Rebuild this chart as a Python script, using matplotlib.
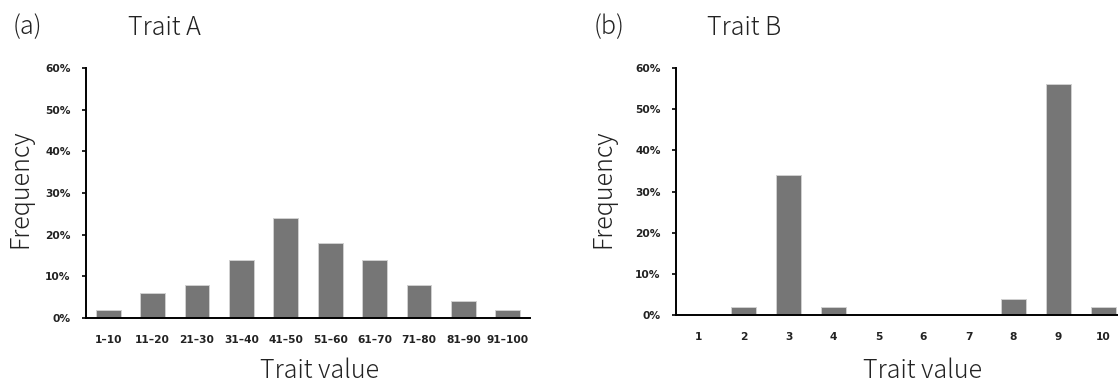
import matplotlib
matplotlib.use("Agg")
import matplotlib.pyplot as plt

#%% data
bins_a = ["1\u201310", "11\u201320", "21\u201330", "31\u201340", "41\u201350",
          "51\u201360", "61\u201370", "71\u201380", "81\u201390", "91\u2013100"]
freq_a = [2, 6, 8, 14, 24, 18, 14, 8, 4, 2]

bins_b = ["1", "2", "3", "4", "5", "6", "7", "8", "9", "10"]
freq_b = [0, 2, 34, 2, 0, 0, 0, 4, 56, 2]

yticks = [0, 10, 20, 30, 40, 50, 60]

#%% figure
W, H = 1118, 382
fig = plt.figure(figsize=(W / 100, H / 100), dpi=100)
big = dict(family=["Noto Sans CJK JP", "DejaVu Sans"], fontsize=18, weight="light", color="#222222")
small = dict(family=["DejaVu Sans"], fontsize=7.7, weight="bold", color="#222222")


def px(x0, y0, x1, y1):
    # pixel box (top-left origin) -> figure fraction rect
    return [x0 / W, 1 - y1 / H, (x1 - x0) / W, (y1 - y0) / H]


def panel(rect, cats, vals):
    ax = fig.add_axes(rect)
    x = list(range(len(cats)))
    ax.bar(x, vals, width=0.56, color="#767676", edgecolor="#d0d0d0", linewidth=0.7)
    ax.set_xlim(-0.5, len(cats) - 0.5)
    ax.set_ylim(0, 60)
    ax.set_yticks(yticks)
    ax.set_yticklabels([f"{v}%" for v in yticks], **small)
    ax.set_xticks(x)
    ax.set_xticklabels(cats, **small)
    ax.tick_params(axis="x", length=0, pad=12)
    ax.tick_params(axis="y", length=3, width=1.2, pad=8)
    for s in ["top", "right"]:
        ax.spines[s].set_visible(False)
    ax.spines["left"].set_linewidth(1.4)
    ax.spines["bottom"].set_linewidth(1.4)
    return ax


ax1 = panel(px(86, 68, 530, 318), bins_a, freq_a)
ax2 = panel(px(676, 68, 1126, 315), bins_b, freq_b)

# panel letters and titles
fig.text(13 / W, 1 - 34 / H, "(a)", ha="left", va="baseline", **big)
fig.text(128 / W, 1 - 35 / H, "Trait A", ha="left", va="baseline", **big)
fig.text(594 / W, 1 - 34 / H, "(b)", ha="left", va="baseline", **big)
fig.text(707 / W, 1 - 35 / H, "Trait B", ha="left", va="baseline", **big)

# axis labels
fig.text(320 / W, 1 - 378 / H, "Trait value", ha="center", va="baseline", **big)
fig.text(923 / W, 1 - 378 / H, "Trait value", ha="center", va="baseline", **big)
fig.text(20 / W, 1 - 189 / H, "Frequency", ha="center", va="center", rotation=90, **big)
fig.text(603 / W, 1 - 189 / H, "Frequency", ha="center", va="center", rotation=90, **big)

fig.savefig("out.png", dpi=100)
